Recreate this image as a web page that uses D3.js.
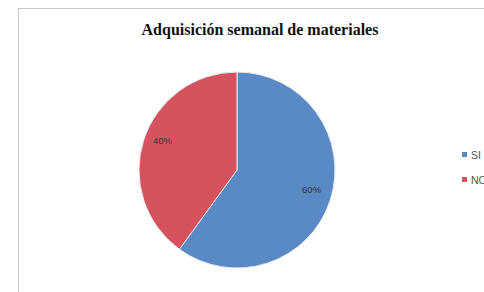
<!DOCTYPE html>
<html>
<head>
<meta charset="utf-8">
<script src="https://cdn.jsdelivr.net/npm/d3@7"></script>
<style>
  body { margin: 0; background: #fff; }
  svg { display: block; }
</style>
</head>
<body>
<div id="chart"></div>
<script>
// chart data
var categories = ["SI", "NO"];
var values = [60, 40];
var labels = ["60%", "40%"];
var colors = ["#5A8AC6", "#D5535F"];

var width = 484, height = 292;
var cx = 237, cy = 170, radius = 98;

var svg = d3.select("#chart").append("svg")
  .attr("width", width)
  .attr("height", height);

// chart area border
svg.append("rect")
  .attr("x", 18.5)
  .attr("y", 8.5)
  .attr("width", 500)
  .attr("height", 320)
  .attr("fill", "#fff")
  .attr("stroke", "#c8c8c8");

svg.append("text")
  .attr("x", 260)
  .attr("y", 35)
  .attr("text-anchor", "middle")
  .style("font-family", "'Liberation Serif', 'DejaVu Serif', serif")
  .style("font-weight", "bold")
  .style("font-size", "16px")
  .style("fill", "#111")
  .text("Adquisición semanal de materiales");

var pie = d3.pie().sort(null).value(function(d) { return d; });
var arc = d3.arc().innerRadius(0).outerRadius(radius);
var labelArc = d3.arc().innerRadius(radius * 0.8).outerRadius(radius * 0.8);

var g = svg.append("g")
  .attr("transform", "translate(" + cx + "," + cy + ")");

var slices = pie(values);

g.selectAll("path")
  .data(slices)
  .enter()
  .append("path")
  .attr("d", arc)
  .attr("fill", function(d, i) { return colors[i]; })
  .attr("stroke", "#e8e8ee")
  .attr("stroke-width", 1);

g.selectAll("text.lbl")
  .data(slices)
  .enter()
  .append("text")
  .attr("class", "lbl")
  .attr("transform", function(d) {
    var c = labelArc.centroid(d);
    return "translate(" + c[0] + "," + (c[1] - 5) + ")";
  })
  .attr("text-anchor", "middle")
  .attr("dy", "0.35em")
  .style("font-family", "'Liberation Sans', Arial, sans-serif")
  .style("font-size", "9.5px")
  .style("fill", "#333")
  .text(function(d, i) { return labels[i]; });

// legend
var legend = svg.append("g")
  .attr("transform", "translate(462,155)");

var item = legend.selectAll("g")
  .data(categories)
  .enter()
  .append("g")
  .attr("transform", function(d, i) { return "translate(0," + (i * 25) + ")"; });

item.append("rect")
  .attr("x", 0)
  .attr("y", -3)
  .attr("width", 5)
  .attr("height", 5)
  .attr("fill", function(d, i) { return colors[i]; });

item.append("text")
  .attr("x", 9)
  .attr("dy", "0.35em")
  .style("font-family", "'Liberation Sans', Arial, sans-serif")
  .style("font-size", "10.5px")
  .style("fill", "#555")
  .text(function(d) { return d; });
</script>
</body>
</html>
